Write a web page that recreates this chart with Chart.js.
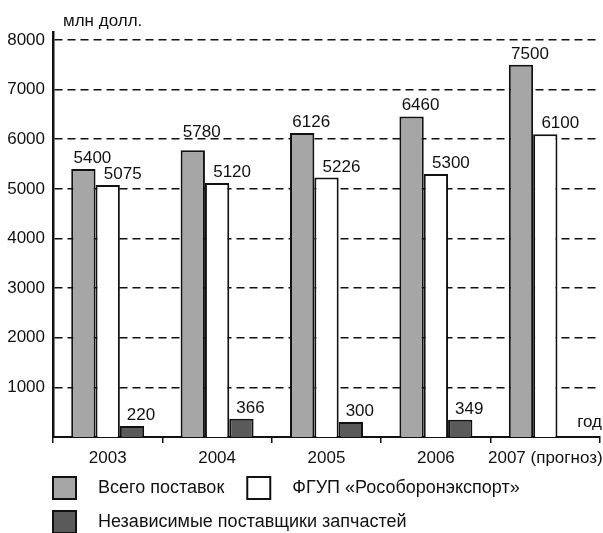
<!DOCTYPE html>
<html><head><meta charset="utf-8">
<script src="https://cdn.jsdelivr.net/npm/chart.js@4.4.0/dist/chart.umd.min.js"></script>
<style>html,body{margin:0;padding:0;background:#fff;}</style>
</head><body>
<canvas id="c" width="603" height="533"></canvas>
<script>
const categories = ['2003', '2004', '2005', '2006', '2007 (прогноз)'];
const seriesNames = ['Всего поставок', 'ФГУП «Рособоронэкспорт»', 'Независимые поставщики запчастей'];
const totalSupplies = [5400, 5780, 6126, 6460, 7500];
const rosoboronexport = [5075, 5120, 5226, 5300, 6100];
const independentSuppliers = [220, 366, 300, 349, null];
const yTickValues = [1000, 2000, 3000, 4000, 5000, 6000, 7000, 8000];
const yAxisTitle = 'млн долл.';
const xAxisTitle = 'год';

const FONT = "'Liberation Sans','Arial',sans-serif";
const INK = '#111111';

const annotations = {
  id: 'annotations',
  afterDatasetsDraw(chart) {
    const ctx = chart.ctx;
    const area = chart.chartArea;
    const yScale = chart.scales.y;
    const gridYs = yScale.ticks.map(t => yScale.getPixelForValue(t.value));
    ctx.save();
    ctx.fillStyle = INK;
    ctx.font = '17px ' + FONT;
    ctx.textAlign = 'center';
    ctx.textBaseline = 'alphabetic';
    const offs = [9, 15, 9];
    const capH = 12.5;
    chart.data.datasets.forEach((ds, di) => {
      const meta = chart.getDatasetMeta(di);
      meta.data.forEach((bar, i) => {
        const v = ds.data[i];
        if (v == null) return;
        let base = bar.y - 6;
        // keep the label clear of a dashed grid line, as in the original
        gridYs.forEach(g => {
          if (g > base - capH - 1 && g < base + 2) base = g - 2;
        });
        ctx.fillText(String(v), bar.x + offs[di], base);
      });
    });
    ctx.textAlign = 'left';
    ctx.textBaseline = 'middle';
    ctx.fillText(yAxisTitle, 63, 21);
    ctx.textAlign = 'right';
    ctx.fillText(xAxisTitle, area.right + 2, 422);

    // legend
    ctx.font = '18px ' + FONT;
    let x = 52, y = 476;
    chart.data.datasets.forEach((ds) => {
      const tw = ctx.measureText(ds.label).width;
      if (x + 46 + tw > chart.width) { x = 52; y += 34; }
      ctx.fillStyle = ds.backgroundColor;
      ctx.fillRect(x + 1, y + 1, 23, 22);
      ctx.lineWidth = 2;
      ctx.strokeStyle = INK;
      ctx.strokeRect(x + 1, y + 1, 23, 22);
      ctx.fillStyle = INK;
      ctx.textAlign = 'left';
      ctx.textBaseline = 'middle';
      ctx.fillText(ds.label, x + 46, y + 12);
      x = x + 46 + tw + 22;
    });
    ctx.restore();
  }
};

new Chart(document.getElementById('c'), {
  type: 'bar',
  data: {
    labels: categories,
    datasets: [
      { label: seriesNames[0], data: totalSupplies, backgroundColor: '#a6a6a6' },
      { label: seriesNames[1], data: rosoboronexport, backgroundColor: '#ffffff' },
      { label: seriesNames[2], data: independentSuppliers, backgroundColor: '#5a5a5a' }
    ]
  },
  options: {
    responsive: false,
    animation: false,
    devicePixelRatio: 1,
    layout: { padding: { left: 0, right: 3, top: 32, bottom: 0 } },
    datasets: {
      bar: {
        borderColor: INK,
        borderWidth: 2,
        categoryPercentage: 0.667,
        barPercentage: 1.0
      }
    },
    plugins: { legend: { display: false }, tooltip: { enabled: false } },
    scales: {
      x: {
        afterFit(s) { s.height = 96; s.paddingLeft = 0; s.paddingRight = 0; },
        grid: { drawOnChartArea: false, drawTicks: true, tickLength: 6, color: INK, lineWidth: 1.5, offset: true },
        border: { display: true, color: INK, width: 2 },
        ticks: { color: INK, font: { family: FONT, size: 17 }, padding: 5, maxRotation: 0, autoSkip: false }
      },
      y: {
        min: 0,
        max: 8160,
        afterFit(s) { s.width = 53; },
        afterBuildTicks(s) { s.ticks = yTickValues.map(v => ({ value: v })); },
        grid: { drawTicks: false, color: INK, lineWidth: 1.6 },
        border: { display: true, color: INK, width: 2.5, dash: [8, 5] },
        ticks: { color: INK, font: { family: FONT, size: 17 }, padding: 8, callback: v => String(v) }
      }
    }
  },
  plugins: [annotations]
});
</script>
</body></html>
